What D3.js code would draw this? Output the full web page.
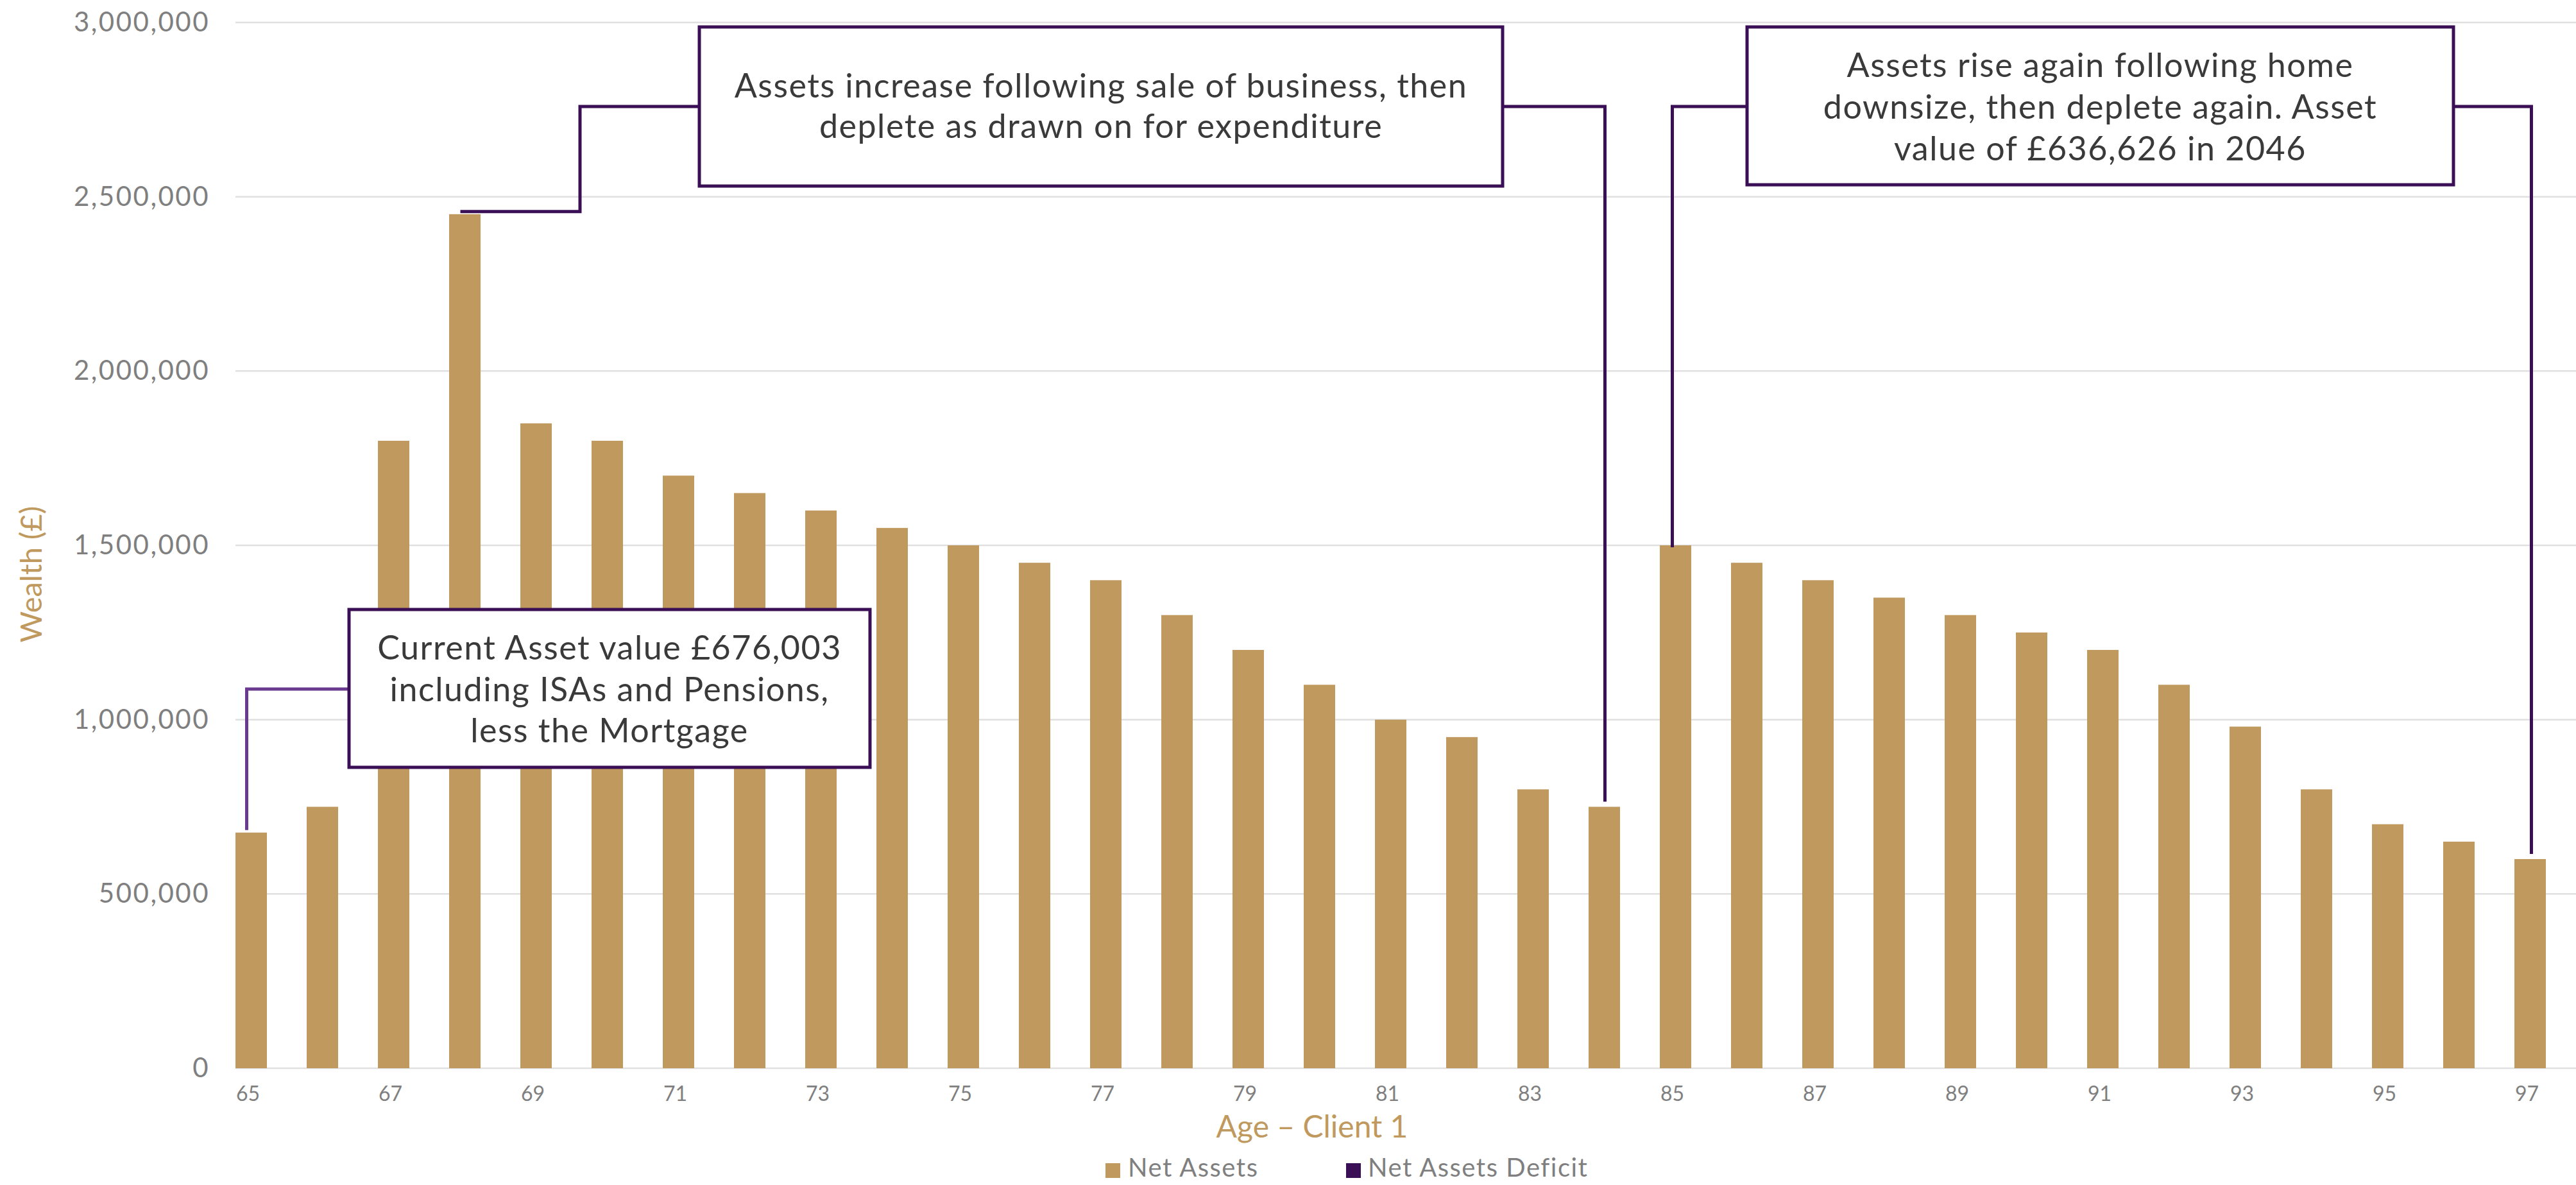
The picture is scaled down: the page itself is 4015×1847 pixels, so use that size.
<!DOCTYPE html>
<html>
<head>
<meta charset="utf-8">
<script src="https://cdn.jsdelivr.net/npm/d3@7"></script>
<style>
  html, body { margin: 0; padding: 0; background: #ffffff; }
  svg { display: block; }
  text { font-family: Lato, "Open Sans", sans-serif; }
</style>
</head>
<body>
<svg id="chart" width="4015" height="1847"></svg>
<script>
// ---------- data ----------
const ages = [65,66,67,68,69,70,71,72,73,74,75,76,77,78,79,80,81,82,83,84,85,86,87,88,89,90,91,92,93,94,95,96,97];
const netAssets = [676003,750000,1800000,2450000,1850000,1800000,1700000,1650000,1600000,1550000,1500000,1450000,1400000,1300000,1200000,1100000,1000000,950000,800000,750000,1500000,1450000,1400000,1350000,1300000,1250000,1200000,1100000,980000,800000,700000,650000,600000];
const netAssetsDeficit = ages.map(() => 0);
const xTickAges = [65,67,69,71,73,75,77,79,81,83,85,87,89,91,93,95,97];
const yTickValues = [0,500000,1000000,1500000,2000000,2500000,3000000];
const seriesNames = ["Net Assets", "Net Assets Deficit"];
const seriesColors = ["#BF995E", "#3B0F55"];
const xAxisTitle = "Age \u2013 Client 1";
const yAxisTitle = "Wealth (\u00A3)";

const annoCurrentLines = ["Current Asset value \u00A3676,003", "including ISAs and Pensions,", "less the Mortgage"];
const annoSaleLines = ["Assets increase following sale of business, then", "deplete as drawn on for expenditure"];
const annoDownsizeLines = ["Assets rise again following home", "downsize, then deplete again. Asset", "value of \u00A3636,626 in 2046"];

// ---------- layout ----------
const svg = d3.select("#chart");
const plotLeft = 367, plotRight = 4015, plotTop = 35, plotBottom = 1665;
const step = 111;
const x = d3.scaleBand().domain(ages).range([plotLeft, plotLeft + ages.length * step]).padding(0);
const barW = x.bandwidth() * 0.4414;
const y = d3.scaleLinear().domain([0, 3000000]).range([plotBottom, plotTop]);

const textGray = "#7f7f7f";
const gold = seriesColors[0];
const purple = seriesColors[1];

// gridlines
svg.append("g").selectAll("line").data(yTickValues).join("line")
  .attr("x1", plotLeft).attr("x2", plotRight)
  .attr("y1", d => y(d)).attr("y2", d => y(d))
  .attr("stroke", "#e0e0e0").attr("stroke-width", 2.5);

// y axis labels
const yAxis = d3.axisLeft(y).tickValues(yTickValues).tickFormat(d3.format(",")).tickSize(0).tickPadding(0);
const yg = svg.append("g").attr("transform", `translate(${plotLeft - 40},0)`).call(yAxis);
yg.select(".domain").remove();
yg.selectAll("text")
  .attr("fill", textGray).attr("font-size", 42).attr("letter-spacing", "2.5px")
  .attr("font-family", "Lato, sans-serif").attr("dy", "0.32em");

// bars
svg.append("g").selectAll("rect").data(ages).join("rect")
  .attr("x", d => x(d))
  .attr("width", barW)
  .attr("y", (d, i) => y(netAssets[i]))
  .attr("height", (d, i) => y(0) - y(netAssets[i]))
  .attr("fill", gold);
svg.append("g").selectAll("rect").data(ages).join("rect")
  .attr("x", d => x(d) + barW)
  .attr("width", barW)
  .attr("y", (d, i) => y(netAssetsDeficit[i]))
  .attr("height", (d, i) => y(0) - y(netAssetsDeficit[i]))
  .attr("fill", purple);

// x tick labels
svg.append("g").selectAll("text").data(xTickAges).join("text")
  .attr("x", d => x(d) + 1)
  .attr("y", 1716)
  .attr("font-size", 32).attr("fill", textGray)
  .text(d => d);

// axis titles
svg.append("text").attr("x", 2045).attr("y", 1773).attr("text-anchor", "middle")
  .attr("font-size", 48).attr("fill", gold).text(xAxisTitle);
svg.append("text").attr("transform", "translate(65,895) rotate(-90)").attr("text-anchor", "middle")
  .attr("font-size", 47).attr("fill", gold).text(yAxisTitle);

// legend
const legendItems = [{ name: seriesNames[0], color: seriesColors[0], sx: 1723, tx: 1758 },
                     { name: seriesNames[1], color: seriesColors[1], sx: 2098, tx: 2132 }];
const lg = svg.append("g");
lg.selectAll("rect").data(legendItems).join("rect")
  .attr("x", d => d.sx).attr("y", 1813).attr("width", 23).attr("height", 23).attr("fill", d => d.color);
lg.selectAll("text").data(legendItems).join("text")
  .attr("x", d => d.tx).attr("y", 1834).attr("font-size", 40).attr("letter-spacing", "1.5px")
  .attr("fill", textGray).text(d => d.name);

// ---------- annotations ----------
const barCenter = age => x(age) + barW / 2;
const barTop = age => y(netAssets[ages.indexOf(age)]);
const lw = 5;

function drawPath(points, color) {
  svg.append("path")
    .attr("d", d3.line()(points))
    .attr("fill", "none").attr("stroke", color).attr("stroke-width", lw)
    .attr("stroke-linejoin", "miter").attr("stroke-linecap", "butt");
}
function drawBox(x0, y0, x1, y1, lines, baselines) {
  svg.append("rect").attr("x", x0).attr("y", y0).attr("width", x1 - x0).attr("height", y1 - y0)
    .attr("fill", "#ffffff").attr("stroke", purple).attr("stroke-width", lw);
  svg.append("g").selectAll("text").data(lines).join("text")
    .attr("x", (x0 + x1) / 2).attr("y", (d, i) => baselines[i])
    .attr("text-anchor", "middle").attr("font-size", 52).attr("letter-spacing", "1.5px")
    .attr("fill", "#3a3a3a")
    .text(d => d);
}

// box 1: current assets -> age 65
drawPath([[544, 1074], [barCenter(65) - 7, 1074], [barCenter(65) - 7, barTop(65) - 4]], "#693A8E");
drawBox(544, 950, 1356, 1196, annoCurrentLines, [1028, 1093, 1157]);

// box 2: sale of business -> age 68 and age 84
drawPath([[1090, 166], [904, 166], [904, barTop(68) - 4], [barCenter(68) - 7, barTop(68) - 4]], purple);
drawPath([[2342, 166], [barCenter(84) + 1, 166], [barCenter(84) + 1, barTop(84) - 8]], purple);
drawBox(1090, 42, 2342, 290, annoSaleLines, [152, 215]);

// box 3: downsize -> age 85 and age 97
drawPath([[2723, 166], [barCenter(85) - 5, 166], [barCenter(85) - 5, barTop(85) + 3]], purple);
drawPath([[3824, 166], [barCenter(97) + 2, 166], [barCenter(97) + 2, barTop(97) - 8]], purple);
drawBox(2723, 42, 3824, 288, annoDownsizeLines, [120, 185, 250]);
</script>
</body>
</html>
